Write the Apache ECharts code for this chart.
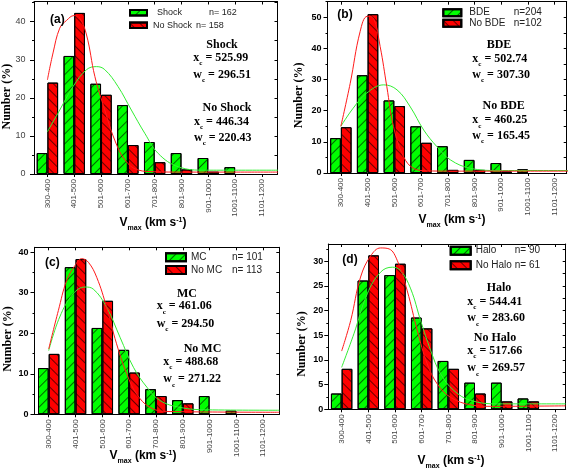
<!DOCTYPE html>
<html><head><meta charset="utf-8">
<script src="https://cdn.jsdelivr.net/npm/echarts@6/dist/echarts.min.js"></script>
<style>html,body{margin:0;padding:0;background:#fff}#c{width:568px;height:468px}</style>
</head><body><div id="c"></div>
<script>
// ---------- DATA ----------
const categories = ['300-400','401-500','501-600','601-700','701-800','801-900','901-1000','1001-1100','1101-1200'];
const catPos = [1,2,3,4,5,6,7,8,9];

// (a) Shock / No Shock
const shockPct   = [5.5, 31.0, 23.7, 18.1, 8.4, 5.5, 4.2, 1.8, null];
const noShockPct = [24.0, 42.3, 20.8, 7.6, 3.1, 1.2, 0.6, null, null];
const shockFitX   = [1, 1.46, 1.96, 2.46, 2.83, 3.14, 3.63, 4.13, 4.63, 5.13, 5.88, 6.88, 8, 9.6];
const shockFitY   = [11.1, 16.8, 23.0, 27.4, 28.2, 27.4, 23.0, 16.8, 10.7, 5.4, 1.9, 1.0, 1.0, 1.0];
const noShockFitX = [1, 1.21, 1.46, 1.71, 1.99, 2.2, 2.46, 2.77, 3.14, 3.51, 3.89, 4.38, 5, 6, 9.6];
const noShockFitY = [24.7, 31.8, 38.3, 40.3, 41.6, 41.0, 36.5, 25.6, 16.8, 8.9, 3.7, 1.05, 0.6, 0.5, 0.5];

// (b) BDE / No BDE
const bdePct   = [11.2, 31.4, 23.3, 15.0, 8.6, 4.2, 3.2, 1.2, null];
const noBdePct = [14.7, 51.0, 21.5, 9.7, 1.0, 1.0, 0.5, null, null];
const bdeFitX   = [1, 1.46, 1.96, 2.6, 3.1, 3.6, 4.1, 4.6, 5.1, 5.85, 6.85, 9.5];
const bdeFitY   = [15.0, 20.8, 25.6, 28.3, 26.7, 21.2, 13.8, 8.4, 4.2, 1.5, 0.8, 0.8];
const noBdeFitX = [1, 1.35, 1.72, 1.99, 2.22, 2.47, 2.72, 2.97, 3.35, 3.72, 4.22, 5, 9.5];
const noBdeFitY = [15.0, 28.8, 45.4, 50.3, 49.7, 40.6, 27.7, 14.9, 5.2, 1.5, 0.7, 0.6, 0.6];

// (c) MC / No MC
const mcPct   = [11.4, 36.3, 21.3, 15.9, 6.2, 3.5, 4.5, 0.9, null];
const noMcPct = [14.9, 38.3, 28.0, 10.3, 4.5, 2.7, null, null, null];
const mcFitX   = [1, 1.41, 1.91, 2.35, 2.66, 3.16, 3.66, 4.16, 4.66, 5.15, 5.9, 6.9, 9.6];
const mcFitY   = [15.7, 24.0, 29.7, 31.4, 30.9, 26.4, 19.0, 11.6, 6.7, 3.4, 1.7, 1.1, 1.0];
const noMcFitX = [1, 1.36, 1.67, 1.98, 2.23, 2.48, 2.79, 3.16, 3.53, 3.91, 4.28, 4.78, 5.4, 9.6];
const noMcFitY = [16.1, 25.6, 33.0, 36.7, 38.4, 37.5, 33.8, 26.4, 17.4, 10.0, 5.0, 1.7, 0.7, 0.5];

// (d) Halo / No Halo
const haloPct   = [3.2, 26.1, 27.2, 18.6, 9.8, 5.4, 5.4, 2.2, null];
const noHaloPct = [8.2, 31.2, 29.5, 16.4, 8.2, 3.2, 1.6, 1.6, null];
const haloFitX   = [1, 1.46, 1.96, 2.46, 2.9, 3.21, 3.59, 3.96, 4.34, 4.71, 5.21, 5.84, 6.84, 9.4];
const haloFitY   = [8.5, 15.3, 23.4, 27.8, 28.8, 28.1, 24.4, 18.0, 11.9, 7.2, 3.8, 1.8, 1.1, 1.1];
const noHaloFitX = [1, 1.34, 1.71, 2.09, 2.46, 2.78, 3.09, 3.46, 3.84, 4.21, 4.59, 5.09, 5.84, 6.59, 9.4];
const noHaloFitY = [11.8, 18.0, 26.8, 31.1, 32.7, 32.5, 30.1, 24.0, 15.9, 9.2, 5.1, 2.4, 0.9, 0.6, 0.7];

// texts
const panelTags = ['(a)','(b)','(c)','(d)'];
const seriesNames = [['Shock','No Shock'],['BDE','No BDE'],['MC','No MC'],['Halo','No Halo']];
const nTexts = [['n= 162','n= 158'],['n=204','n=102'],['n= 101','n= 113'],['n= 90','n= 61']];
const fitStats = [
  [['Shock','525.99','296.51'],['No Shock','446.34','220.43']],
  [['BDE','502.74','307.30'],['No BDE','460.25','165.45']],
  [['MC','461.06','294.50'],['No MC','488.68','271.22']],
  [['Halo','544.41','283.60'],['No Halo','517.66','269.57']]
];

// ---------- LAYOUT ----------
const GREEN = '#00ff00', RED = '#ff0000', GREEN_L = '#33ee33', RED_L = '#ff1a1a';
const panels = [
  {grid:{left:34, top:1.5, width:243.5, height:172.5}, xMin:0.5, xMax:9.58, yMax:45.3, step:10,
   bars:[shockPct,noShockPct], fits:[[shockFitX,shockFitY],[noShockFitX,noShockFitY]],
   yl:{bold:false, color:'#444', margin:8.5},
   legend:{left:129, top:7.2, iw:17, ih:5.5, gap:1.6, lh:11, fs:9, pads:[5,1], widths:[52,43]},
   tag:[50,20], xTitle:[153,223], yTitle:[7,96.7],
   stats:[{hc:222,hy:45,x:193.3,y1:58.3,y2:75},{hc:227,hy:108.3,x:194,y1:122.3,y2:138.3}]},
  {grid:{left:327.5, top:1.7, width:239.2, height:171.3}, xMin:0.5, xMax:9.45, yMax:55, step:10,
   bars:[bdePct,noBdePct], fits:[[bdeFitX,bdeFitY],[noBdeFitX,noBdeFitY]],
   yl:{bold:true, color:'#000', margin:6},
   legend:{left:442.3, top:7.7, iw:18, ih:7, gap:0.6, lh:10, fs:10, pads:[3,3], widths:[44.4,44.4]},
   tag:[337.3,15], xTitle:[452,220], yTitle:[299,95.3],
   stats:[{hc:499,hy:45,x:472.3,y1:59.3,y2:75},{hc:503.7,hy:106,x:472.3,y1:120.7,y2:136}]},
  {grid:{left:34.5, top:247.3, width:244.8, height:167}, xMin:0.47, xMax:9.6, yMax:41.2, step:10,
   bars:[mcPct,noMcPct], fits:[[mcFitX,mcFitY],[noMcFitX,noMcFitY]],
   yl:{bold:true, color:'#000', margin:6},
   legend:{left:165, top:251.8, iw:20, ih:8, gap:1.7, lh:11, fs:10, pads:[0,0], widths:[41,41]},
   tag:[45,262.3], xTitle:[143,456], yTitle:[8.3,339],
   stats:[{hc:187,hy:294,x:156.7,y1:306.7,y2:324},{hc:202.5,hy:349,x:163.3,y1:362,y2:379.7}]},
  {grid:{left:328.3, top:244, width:237.4, height:165.3}, xMin:0.5, xMax:9.4, yMax:33.5, step:5,
   bars:[haloPct,noHaloPct], fits:[[haloFitX,haloFitY],[noHaloFitX,noHaloFitY]],
   yl:{bold:true, color:'#000', margin:5},
   legend:{left:449.7, top:245.2, iw:20, ih:8, gap:3.6, lh:11, fs:10, pads:[0,0], widths:[39,39]},
   tag:[342.3,260], xTitle:[451,461], yTitle:[302,344],
   stats:[{hc:499,hy:288,x:467.3,y1:302,y2:318.7},{hc:495,hy:338,x:467.3,y1:351.3,y2:368.7}]}
];

const decal = rot => ({symbol:'rect', symbolSize:1, dashArrayX:[1,0], dashArrayY:[1,6], rotation:rot, color:'rgba(0,0,0,0.6)'});
const SANS = 'Liberation Sans, Arial, sans-serif';
const SERIF = 'Liberation Serif, Times New Roman, serif';

const grids = [], xAxes = [], yAxes = [], series = [], legends = [], graphics = [];
panels.forEach((p, i) => {
  grids.push(Object.assign({containLabel:false}, p.grid));
  const majors = [], minors = [], all = [];
  for (let v = 0; v <= p.yMax + 1e-9; v += p.step) majors.push(+v.toFixed(3));
  for (let v = p.step/2; v <= p.yMax + 1e-9; v += p.step) minors.push(+v.toFixed(3));
  majors.concat(minors).forEach(v => all.push(v));
  const blk = {color:'#000', width:1};
  xAxes.push({type:'value', gridIndex:i, min:p.xMin, max:p.xMax, position:'bottom',
    axisLine:{show:true, onZero:false, lineStyle:blk},
    axisTick:{show:true, customValues:catPos, length:3, lineStyle:blk},
    axisLabel:{show:true, customValues:catPos, rotate:90, margin:5, fontSize:8, color:'#444', fontFamily:SANS,
      formatter: v => categories[Math.round(v)-1]},
    splitLine:{show:false}});
  xAxes.push({type:'value', gridIndex:i, min:p.xMin, max:p.xMax, position:'top',
    axisLine:{show:true, onZero:false, lineStyle:blk},
    axisTick:{show:true, inside:true, customValues:catPos, length:3, lineStyle:blk},
    axisLabel:{show:false}, splitLine:{show:false}});
  yAxes.push({type:'value', gridIndex:i, min:0, max:p.yMax, position:'left',
    axisLine:{show:true, lineStyle:blk},
    axisTick:{show:true, customValues:majors, length:4, lineStyle:blk},
    axisLabel:{show:true, customValues:majors, margin:p.yl.margin, fontSize:9, color:p.yl.color,
      fontWeight:p.yl.bold?'bold':'normal', fontFamily:SANS},
    splitLine:{show:false}});
  yAxes.push({type:'value', gridIndex:i, min:0, max:p.yMax, position:'left',
    axisLine:{show:false}, axisTick:{show:true, customValues:minors, length:2, lineStyle:blk},
    axisLabel:{show:false}, splitLine:{show:false}});
  yAxes.push({type:'value', gridIndex:i, min:0, max:p.yMax, position:'right',
    axisLine:{show:true, lineStyle:blk},
    axisTick:{show:true, inside:true, customValues:all, length:3, lineStyle:blk},
    axisLabel:{show:false}, splitLine:{show:false}});

  const cols = [GREEN, RED], lcols = [GREEN_L, RED_L], rots = [-Math.PI/4, Math.PI/4];
  [0,1].forEach(k => {
    series.push({type:'bar', name:seriesNames[i][k], xAxisIndex:2*i, yAxisIndex:3*i,
      data: catPos.map((c, j) => p.bars[k][j] == null ? null : [c, p.bars[k][j]]).filter(d => d),
      barWidth:10.7, barGap:'0%',
      itemStyle:{color:cols[k], borderColor:'#000', borderWidth:1, decal:decal(rots[k])},
      z:2, animation:false});
  });
  [0,1].forEach(k => {
    const fx = p.fits[k][0], fy = p.fits[k][1];
    series.push({type:'line', xAxisIndex:2*i, yAxisIndex:3*i,
      data: fx.map((x, j) => [x, fy[j]]), smooth:0.4, showSymbol:false, symbol:'none',
      lineStyle:{color:lcols[k], width:1}, z:5, silent:true, animation:false});
  });

  const L = p.legend;
  const nmap = {};
  seriesNames[i].forEach((nm, k) => nmap[nm] = {k, n:nTexts[i][k]});
  const ts = {fontSize:L.fs, color:'#222', fontFamily:SANS, lineHeight:L.lh};
  legends.push({data:seriesNames[i], orient:'vertical', left:L.left, top:L.top, padding:0,
    itemWidth:L.iw, itemHeight:L.ih, itemGap:L.gap, icon:'rect', selectedMode:false,
    textStyle:Object.assign({}, ts, {
      rich:{
        r0:Object.assign({width:L.widths[0], padding:[0,0,0,L.pads[0]]}, ts),
        r1:Object.assign({width:L.widths[1], padding:[0,0,0,L.pads[1]]}, ts),
        n:Object.assign({}, ts)}}),
    formatter: nm => `{r${nmap[nm].k}|${nm}}{n|${nmap[nm].n}}`});

  graphics.push({type:'text', x:p.tag[0], y:p.tag[1], z:100,
    style:{text:panelTags[i], fontFamily:SANS, fontWeight:'bold', fontSize:12, fill:'#000', align:'left', verticalAlign:'middle'}});
  graphics.push({type:'text', x:p.xTitle[0], y:p.xTitle[1]-6.5, z:100,
    style:{text:'{m|V}{s|max}{m| (km s}{u|-1}{m|)}', align:'center', verticalAlign:'top',
      rich:{m:{fontFamily:SANS, fontWeight:'bold', fontSize:12, lineHeight:13, verticalAlign:'top', fill:'#000'},
            s:{fontFamily:SANS, fontWeight:'bold', fontSize:7, lineHeight:7, verticalAlign:'top', padding:[8,0,0,0], fill:'#000'},
            u:{fontFamily:SANS, fontWeight:'bold', fontSize:7, lineHeight:7, verticalAlign:'top', padding:[0,0,0,0], fill:'#000'}}}});
  graphics.push({type:'text', x:p.yTitle[0], y:p.yTitle[1], rotation:Math.PI/2, z:100,
    style:{text:'Number (%)', fontFamily:SERIF, fontWeight:'bold', fontSize:12, fill:'#000', align:'center', verticalAlign:'middle'}});
  const rich = {m:{fontFamily:SERIF, fontWeight:'bold', fontSize:12, lineHeight:13, verticalAlign:'top', fill:'#000'},
                s:{fontFamily:SERIF, fontWeight:'bold', fontSize:7, lineHeight:7, verticalAlign:'top', padding:[8,0,0,0], fill:'#000'}};
  p.stats.forEach((s, k) => {
    const st = fitStats[i][k];
    graphics.push({type:'text', x:s.hc, y:s.hy, z:100,
      style:{text:st[0], fontFamily:SERIF, fontWeight:'bold', fontSize:12, fill:'#000', align:'center', verticalAlign:'middle'}});
    graphics.push({type:'text', x:s.x, y:s.y1-6.5, z:100,
      style:{text:`{m|x}{s|c}{m| = ${st[1]}}`, align:'left', verticalAlign:'top', rich}});
    graphics.push({type:'text', x:s.x, y:s.y2-6.5, z:100,
      style:{text:`{m|w}{s|c}{m| = ${st[2]}}`, align:'left', verticalAlign:'top', rich}});
  });
});

const chart = echarts.init(document.getElementById('c'), null, {renderer:'canvas'});
chart.setOption({animation:false, backgroundColor:'#fff', grid:grids, xAxis:xAxes, yAxis:yAxes,
  series, legend:legends, graphic:graphics});
</script></body></html>
